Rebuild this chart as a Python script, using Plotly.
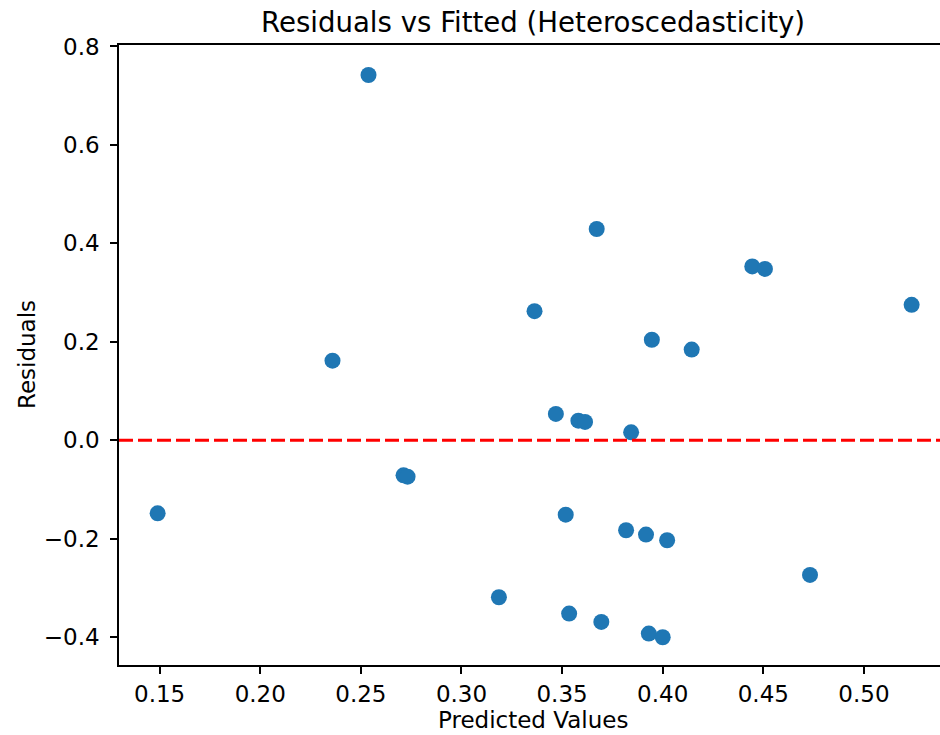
import plotly.graph_objects as go

predicted = [0.2538, 0.3672, 0.3363, 0.3946, 0.4144, 0.4445, 0.4508, 0.5237,
             0.2359, 0.1490, 0.2712, 0.2732, 0.3469, 0.3581, 0.3614, 0.3843,
             0.3518, 0.3818, 0.3917, 0.4022, 0.3186, 0.3535, 0.3695, 0.3931,
             0.4000, 0.4732]
residuals = [0.742, 0.429, 0.262, 0.204, 0.184, 0.353, 0.348, 0.275,
             0.1615, -0.1487, -0.0715, -0.0742, 0.0532, 0.0396, 0.037, 0.0159,
             -0.1514, -0.1832, -0.192, -0.2035, -0.3193, -0.3525, -0.3694, -0.3931,
             -0.4006, -0.2739]

x_ticks = [0.15, 0.20, 0.25, 0.30, 0.35, 0.40, 0.45, 0.50]
x_tick_labels = ["0.15", "0.20", "0.25", "0.30", "0.35", "0.40", "0.45", "0.50"]
y_ticks = [-0.4, -0.2, 0.0, 0.2, 0.4, 0.6, 0.8]
y_tick_labels = ["\u22120.4", "\u22120.2", "0.0", "0.2", "0.4", "0.6", "0.8"]

FONT = "DejaVu Sans"
TICK = 23

fig = go.Figure()
fig.add_trace(go.Scatter(
    x=predicted, y=residuals, mode="markers",
    marker=dict(color="#1f77b4", size=16, line=dict(width=0)),
    showlegend=False,
))

fig.add_shape(type="line", xref="paper", yref="y", x0=0, x1=1, y0=0, y1=0,
              line=dict(color="red", width=3, dash="14px,5px"))

fig.update_layout(
    width=940, height=735,
    margin=dict(l=119, r=0, t=45, b=70),
    paper_bgcolor="white", plot_bgcolor="white",
    font=dict(family=FONT, color="black", size=TICK),
    xaxis=dict(range=[0.1298, 0.5378], tickvals=x_ticks, ticktext=x_tick_labels,
               showgrid=False, zeroline=False, showline=True, linecolor="black",
               linewidth=1.6, mirror=True, ticks="outside", ticklen=7, tickwidth=1.6,
               tickcolor="black", ticklabelstandoff=1,
               tickfont=dict(family=FONT, size=TICK, color="black")),
    yaxis=dict(range=[-0.457, 0.803], tickvals=y_ticks, ticktext=y_tick_labels,
               showgrid=False, zeroline=False, showline=True, linecolor="black",
               linewidth=1.6, mirror=False, ticks="outside", ticklen=7, tickwidth=1.6,
               tickcolor="black", ticklabelstandoff=6,
               tickfont=dict(family=FONT, size=TICK, color="black")),
    annotations=[
        dict(text="Residuals vs Fitted (Heteroscedasticity)", xref="paper", yref="paper",
             x=0.504, y=1.036, xanchor="center", yanchor="middle", showarrow=False,
             font=dict(family=FONT, size=27.6, color="black")),
        dict(text="Predicted Values", xref="paper", yref="paper",
             x=0.504, y=-0.088, xanchor="center", yanchor="middle", showarrow=False,
             font=dict(family=FONT, size=TICK, color="black")),
        dict(text="Residuals", xref="paper", yref="paper", textangle=-90,
             x=-0.112, y=0.5, xanchor="center", yanchor="middle", showarrow=False,
             font=dict(family=FONT, size=TICK, color="black")),
    ],
)

fig.write_html("out.html", config={"displayModeBar": False},
               post_script="document.body.style.margin='0';document.body.style.overflow='hidden';")
